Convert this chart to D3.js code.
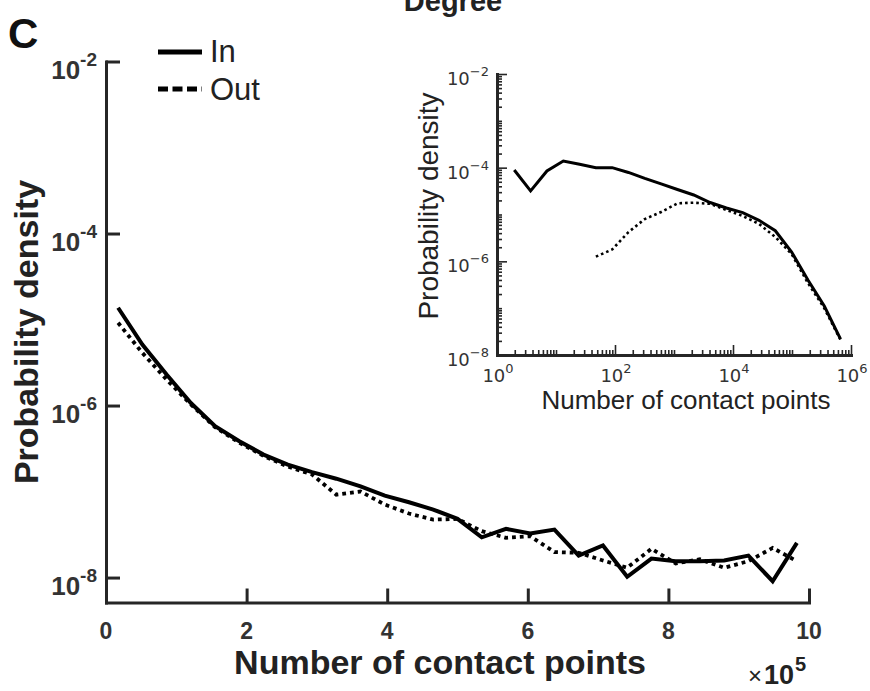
<!DOCTYPE html>
<html>
<head>
<meta charset="utf-8">
<script src="https://cdn.jsdelivr.net/npm/d3@7"></script>
<style>
  body { margin: 0; background: #fff; }
  svg { display: block; }
  text { font-family: "Liberation Sans", Arial, sans-serif; }
</style>
</head>
<body>
<svg id="chart" width="870" height="691"></svg>
<script>
// ---- Main panel: linear bins of contact points (x in units of 10^5) ----
const binCentersE5 = [0.172, 0.517, 0.862, 1.207, 1.552, 1.897, 2.241, 2.586, 2.931, 3.276,
  3.621, 3.966, 4.310, 4.655, 5.000, 5.345, 5.690, 6.034, 6.379, 6.724,
  7.069, 7.414, 7.759, 8.103, 8.448, 8.793, 9.138, 9.483, 9.828];
const inDensity = [1.37e-5, 5.12e-6, 2.29e-6, 1.07e-6, 5.75e-7, 3.85e-7, 2.69e-7, 2.06e-7, 1.68e-7, 1.41e-7,
  1.15e-7, 8.97e-8, 7.5e-8, 6.18e-8, 4.81e-8, 2.94e-8, 3.68e-8, 3.25e-8, 3.61e-8, 1.8e-8,
  2.36e-8, 1.02e-8, 1.66e-8, 1.55e-8, 1.55e-8, 1.58e-8, 1.8e-8, 9.06e-9, 2.53e-8];
const outDensity = [9.16e-6, 4.1e-6, 2.0e-6, 1.03e-6, 5.6e-7, 3.7e-7, 2.6e-7, 1.95e-7, 1.58e-7, 9.2e-8,
  1.0e-7, 7.06e-8, 5.55e-8, 4.72e-8, 4.81e-8, 3.46e-8, 2.9e-8, 3.02e-8, 1.98e-8, 1.94e-8,
  1.58e-8, 1.3e-8, 2.16e-8, 1.46e-8, 1.63e-8, 1.3e-8, 1.55e-8, 2.21e-8, 1.55e-8];
const mainXTicks = [0, 2, 4, 6, 8, 10];
const mainYExponents = [-2, -4, -6, -8];

// ---- Inset: logarithmic bins ----
const logBinCenters = [1.96, 3.71, 7.02, 13.3, 25.1, 47.4, 89.6, 169, 320, 605, 1143, 2161, 4085,
  7727, 14600, 27600, 52100, 98600, 186200, 352400, 665300];
const inDensityLog = [8.9e-5, 3.2e-5, 8.5e-5, 1.39e-4, 1.18e-4, 1.0e-4, 1.0e-4, 7.9e-5, 5.9e-5, 4.5e-5,
  3.42e-5, 2.61e-5, 1.8e-5, 1.38e-5, 1.1e-5, 7.5e-6, 4.5e-6, 1.58e-6, 3.99e-7, 1.11e-7, 2.19e-8];
const outDensityLog = [null, null, null, null, null, 1.26e-6, 1.79e-6, 4.2e-6, 8.0e-6, 1.13e-5,
  1.73e-5, 1.79e-5, 1.69e-5, 1.25e-5, 9.3e-6, 6.3e-6, 3.31e-6, 1.43e-6, 3.44e-7, 1.0e-7, 2.09e-8];
const insetXExponents = [0, 2, 4, 6];
const insetYExponents = [-2, -4, -6, -8];

const svg = d3.select("#chart");
const axisColor = "#262626";
const textColor = "#222";

// ---------- Main panel ----------
const x = d3.scaleLinear().domain([0, 10]).range([106, 809]);
const y = d3.scaleLog().domain([Math.pow(10, -8.29), 1e-2]).range([602.5, 61.5]);

const xAxis = svg.append("g").attr("transform", "translate(0,602.5)")
  .call(d3.axisBottom(x).tickValues(mainXTicks).tickSize(-14).tickSizeOuter(0).tickFormat(""));
const yAxis = svg.append("g").attr("transform", "translate(106,0)")
  .call(d3.axisLeft(y).tickValues(mainYExponents.map(e => Math.pow(10, e))).tickSize(-14).tickSizeOuter(0).tickFormat(""));
[xAxis, yAxis].forEach(g => {
  g.select(".domain").attr("stroke", axisColor).attr("stroke-width", 3).attr("stroke-linecap", "square");
  g.selectAll(".tick line").attr("stroke", axisColor).attr("stroke-width", 3);
});

// x tick labels
svg.append("g").selectAll("text").data(mainXTicks).join("text")
  .attr("x", d => x(d)).attr("y", 638.5)
  .attr("text-anchor", "middle").attr("font-size", 23).attr("font-weight", "bold")
  .attr("fill", "#333").text(d => d);

// y tick labels 10^e
const yLab = svg.append("g").selectAll("text").data(mainYExponents).join("text")
  .attr("x", 97).attr("y", d => y(Math.pow(10, d)) + 17)
  .attr("text-anchor", "end").attr("font-weight", "bold").attr("fill", "#333");
yLab.append("tspan").attr("font-size", 26).text("10");
yLab.append("tspan").attr("font-size", 19).attr("dy", -13).text(d => String(d));

// axis titles
svg.append("text").attr("x", 440).attr("y", 674).attr("text-anchor", "middle")
  .attr("font-size", 34).attr("font-weight", "bold").attr("fill", textColor)
  .text("Number of contact points");
const mult = svg.append("text").attr("x", 748).attr("y", 684).attr("fill", textColor);
mult.append("tspan").attr("font-size", 24).text("×");
mult.append("tspan").attr("font-size", 27).attr("font-weight", "bold").attr("dx", 2).text("10");
mult.append("tspan").attr("font-size", 20).attr("font-weight", "bold").attr("dx", 1).attr("dy", -13).text("5");

svg.append("text").attr("transform", "translate(38,332) rotate(-90)")
  .attr("text-anchor", "middle").attr("font-size", 34).attr("font-weight", "bold")
  .attr("fill", textColor).text("Probability density");

// panel letter and title
svg.append("text").attr("x", 8).attr("y", 48).attr("font-size", 42).attr("font-weight", "bold")
  .attr("fill", "#111").text("C");
svg.append("text").attr("x", 453).attr("y", 11).attr("text-anchor", "middle")
  .attr("font-size", 29).attr("font-weight", "bold").attr("fill", textColor).text("Degree");

// main series
const mainLine = d3.line().x(d => x(d[0])).y(d => y(d[1]));
svg.append("path").datum(d3.zip(binCentersE5, inDensity))
  .attr("d", mainLine).attr("fill", "none").attr("stroke", "#000")
  .attr("stroke-width", 4).attr("stroke-linejoin", "miter");
svg.append("path").datum(d3.zip(binCentersE5, outDensity))
  .attr("d", mainLine).attr("fill", "none").attr("stroke", "#000")
  .attr("stroke-width", 3.8).attr("stroke-dasharray", "3.8,4");

// legend
const legend = svg.append("g");
legend.append("line").attr("x1", 158).attr("x2", 202).attr("y1", 52).attr("y2", 52)
  .attr("stroke", "#000").attr("stroke-width", 5);
legend.append("text").attr("x", 210).attr("y", 62).attr("font-size", 31).attr("fill", textColor).text("In");
legend.append("line").attr("x1", 158).attr("x2", 202).attr("y1", 89).attr("y2", 89)
  .attr("stroke", "#000").attr("stroke-width", 5).attr("stroke-dasharray", "10,4.5");
legend.append("text").attr("x", 210).attr("y", 100).attr("font-size", 31).attr("fill", textColor).text("Out");

// ---------- Inset ----------
const ix = d3.scaleLog().domain([1, 1e6]).range([497, 851]);
const iy = d3.scaleLog().domain([1e-8, 1e-2]).range([355, 74]);

function logTicks(lo, hi) {
  const t = [];
  for (let e = lo; e < hi; e++) for (let m = 1; m < 10; m++) t.push(m * Math.pow(10, e));
  t.push(Math.pow(10, hi));
  return t;
}
const isMajor = (v, majors) => majors.some(e => Math.abs(Math.log10(v) - e) < 1e-9);

const ixAxis = svg.append("g").attr("transform", "translate(0,355)")
  .call(d3.axisBottom(ix).tickValues(logTicks(0, 6)).tickSize(-5).tickSizeOuter(0).tickFormat(""));
ixAxis.selectAll(".tick line").attr("y2", d => isMajor(d, insetXExponents) ? -10 : -5);
const iyAxis = svg.append("g").attr("transform", "translate(497,0)")
  .call(d3.axisLeft(iy).tickValues(logTicks(-8, -2)).tickSize(-5).tickSizeOuter(0).tickFormat(""));
iyAxis.selectAll(".tick line").attr("x2", d => isMajor(d, insetYExponents) ? 10 : 5);
[ixAxis, iyAxis].forEach(g => {
  g.select(".domain").attr("stroke", axisColor).attr("stroke-width", 3).attr("stroke-linecap", "square");
  g.selectAll(".tick line").attr("stroke", axisColor).attr("stroke-width", 1.6);
});

const insetFont = "'DejaVu Sans', sans-serif";
const ixLab = svg.append("g").selectAll("text").data(insetXExponents).join("text")
  .attr("x", d => ix(Math.pow(10, d)) + 1).attr("y", 382)
  .attr("text-anchor", "middle").attr("fill", "#333").style("font-family", insetFont);
ixLab.append("tspan").attr("font-size", 18).text("10");
ixLab.append("tspan").attr("font-size", 13).attr("dy", -9).text(d => String(d));

const iyLab = svg.append("g").selectAll("text").data(insetYExponents).join("text")
  .attr("x", 489).attr("y", d => iy(Math.pow(10, d)) + 11)
  .attr("text-anchor", "end").attr("fill", "#333").style("font-family", insetFont);
iyLab.append("tspan").attr("font-size", 18).text("10");
iyLab.append("tspan").attr("font-size", 13).attr("dy", -9).text(d => "\u2212" + Math.abs(d));

svg.append("text").attr("x", 686).attr("y", 409).attr("text-anchor", "middle")
  .attr("font-size", 26).attr("fill", textColor).text("Number of contact points");
svg.append("text").attr("transform", "translate(438,206) rotate(-90)")
  .attr("text-anchor", "middle").attr("font-size", 28).attr("fill", textColor)
  .text("Probability density");

const insetLine = d3.line().defined(d => d[1] != null).x(d => ix(d[0])).y(d => iy(d[1]));
svg.append("path").datum(d3.zip(logBinCenters, inDensityLog))
  .attr("d", insetLine).attr("fill", "none").attr("stroke", "#000").attr("stroke-width", 3);
svg.append("path").datum(d3.zip(logBinCenters, outDensityLog))
  .attr("d", insetLine).attr("fill", "none").attr("stroke", "#000")
  .attr("stroke-width", 2.6).attr("stroke-dasharray", "2.6,3");
</script>
</body>
</html>
